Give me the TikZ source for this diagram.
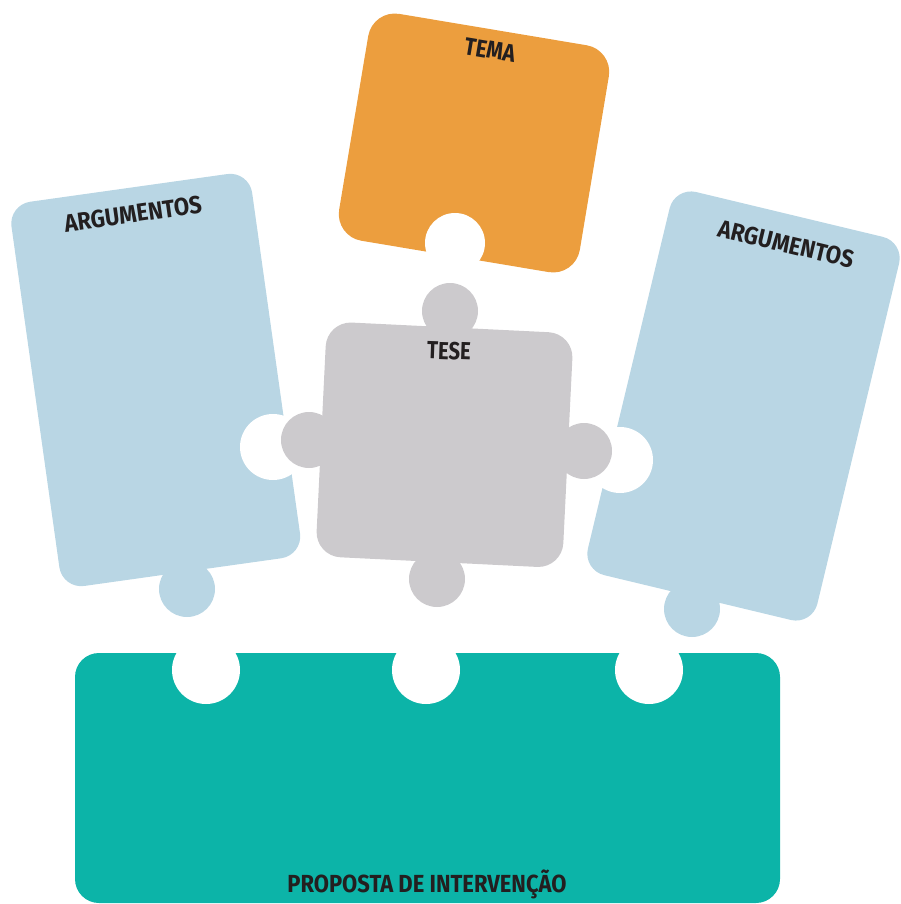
\documentclass[tikz,border=0pt]{standalone}
\usepackage{fontspec}
\setmainfont{Fira Sans}
\usepackage{graphicx}
\definecolor{orng}{HTML}{EC9E3E}
\definecolor{lblue}{HTML}{B9D6E4}
\definecolor{lgray}{HTML}{CCCACD}
\definecolor{tealp}{HTML}{0CB4A8}
\definecolor{ink}{HTML}{231F20}
\tikzset{
  lbl/.style={text=ink, font=\fontsize{24.7}{25}\selectfont\bfseries, inner sep=0pt, text height=17pt, text depth=0pt},
  hole/.style={fill=white},
}
\newcommand\condtxt[2]{\scalebox{#1}[1]{#2}}
\begin{document}
\begin{tikzpicture}[x=1pt,y=-1pt]
\useasboundingbox (0,0) rectangle (900,904);
% bottom piece: proposta
\fill[tealp, rounded corners=24] (75,653) rectangle (780,903);
\fill[hole] (206,670) circle[radius=34pt] (426,670) circle[radius=34pt] (649,670) circle[radius=34pt];
% left argumentos piece
\fill[lblue, rounded corners=22, rotate around={8:(155.75,380)}] (34.25,186) rectangle (277.25,574);
\fill[lblue] (187,589) circle[radius=28pt];
\fill[hole] (273,447) circle[radius=33pt];
% right argumentos piece
\fill[lblue, rounded corners=22, rotate around={-13.5:(743.5,406)}] (625.5,209) rectangle (861.5,603);
\fill[lblue] (692,609) circle[radius=28pt];
\fill[hole] (620,460) circle[radius=33pt];
% tema piece
\fill[orng, rounded corners=27, rotate around={-9.5:(474,143)}] (352,28) rectangle (596,258);
\fill[hole] (455,243) circle[radius=30pt];
% tese piece
\fill[lgray, rounded corners=25, rotate around={-2.8:(444.5,444.75)}] (321,327.25) rectangle (568,562.25);
\fill[lgray] (450,311) circle[radius=28pt] (309,440) circle[radius=28pt] (584,451) circle[radius=28pt] (437,579) circle[radius=28pt];
% labels
\node[lbl, rotate=-9.5] (tema) at (490,50) {\condtxt{0.85}{TEMA}};
\node[lbl, rotate=8] (argl) at (133,214) {\condtxt{0.9}{ARGUMENTOS}};
\node[lbl, rotate=-13.5] (argr) at (786,244) {\condtxt{0.9}{ARGUMENTOS}};
\node[lbl, rotate=-2] (tese) at (449,351) {\condtxt{0.82}{TESE}};
\node[lbl] (prop) at (427,884) {\condtxt{0.89}{PROPOSTA DE INTERVENÇÃO}};
\end{tikzpicture}
\end{document}
